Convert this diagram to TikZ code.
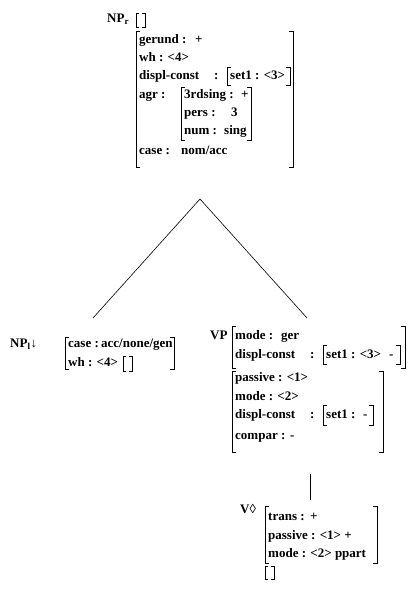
\documentclass[tikz,border=0pt]{standalone}
\usepackage{fontspec}
\setmainfont{Liberation Serif}
\usetikzlibrary{calc}
\begin{document}
\begin{tikzpicture}[x=1pt,y=-1pt,
  txt/.style={anchor=west, inner sep=0pt, text height=8.5pt, text depth=2.5pt, font=\bfseries\fontsize{13}{15}\selectfont},
  brk/.style={line width=0.8pt},
  edge/.style={line width=0.6pt}]
\useasboundingbox (0,0) rectangle (417,589);
\newcommand\avmL[3]{\draw[brk] (#1+4,#2) -- (#1,#2) -- (#1,#3) -- (#1+4,#3);}
\newcommand\avmR[3]{\draw[brk] (#1-4,#2) -- (#1,#2) -- (#1,#3) -- (#1-4,#3);}
\newcommand\emptyavm[3]{\draw[brk] (#1+3,#2) -- (#1,#2) -- (#1,#3) -- (#1+3,#3);
  \draw[brk] (#1+6,#2) -- (#1+9,#2) -- (#1+9,#3) -- (#1+6,#3);}

% ---------- NP_r ----------
\node[txt] (npr) at (107,20) {NP\textsubscript{r}};
\emptyavm{136}{13}{27}
\avmL{136}{31}{167}\avmR{293}{31}{167}
\node[txt] (g1) at (139,40) {gerund :};
\node[txt] (g2) at (195,40) {+};
\node[txt] (wh) at (139,58) {wh : <4>};
\node[txt] (dc1) at (139,76) {displ-const};
\node[txt] (dc2) at (214,76) {:};
\avmL{227}{67}{85}\avmR{290}{67}{85}
\node[txt] (dc3) at (230,76) {set1 : <3>};
\node[txt] (agr) at (139,95) {agr :};
\avmL{181}{87}{140}\avmR{251}{87}{140}
\node[txt] (a1) at (184,95) {3rdsing :};
\node[txt] (a1v) at (241,95) {+};
\node[txt] (a2) at (184,113) {pers :};
\node[txt] (a2v) at (231,113) {3};
\node[txt] (a3) at (184,131) {num :};
\node[txt] (a3v) at (224,131) {sing};
\node[txt] (cs) at (139,151) {case :};
\node[txt] (csv) at (181,151) {nom/acc};

% ---------- connectors ----------
\coordinate (apex) at (200,199);
\coordinate (lend) at (93,318);
\coordinate (rend) at (307,318);
\draw[edge] (lend) -- (apex) -- (rend);

% ---------- NP_l ----------
\node[txt] (npl) at (10,344) {NP\textsubscript{l}↓};
\avmL{65}{337}{369}\avmR{174}{337}{369}
\node[txt] (lcase) at (68,344) {case :};
\node[txt] (lcasev) at (101,344) {acc/none/gen};
\node[txt] (lwh) at (68,363) {wh : <4>};
\draw[brk] ($(lwh.east)+(8,-7)$) -- ++(-3,0) -- ++(0,15) -- ++(3,0);
\draw[brk] ($(lwh.east)+(11,-7)$) -- ++(3,0) -- ++(0,15) -- ++(-3,0);

% ---------- VP ----------
\node[txt] (vp) at (210,336) {VP};
\avmL{232}{326}{368}\avmR{405}{326}{368}
\node[txt] (vm) at (235,336) {mode :};
\node[txt] (vmv) at (281,336) {ger};
\node[txt] (vd) at (235,355) {displ-const};
\node[txt] (vdc) at (310,355) {:};
\avmL{323}{345}{364}\avmR{400}{345}{364}
\node[txt] (vds) at (326,355) {set1 : <3>};
\node[txt] (vdm) at (389,355) {-};

\avmL{232}{371}{452}\avmR{383}{371}{452}
\node[txt] (p1) at (235,378) {passive : <1>};
\node[txt] (p2) at (235,397) {mode : <2>};
\node[txt] (p3) at (235,415) {displ-const};
\node[txt] (p3c) at (310,415) {:};
\avmL{323}{405}{425}\avmR{373}{405}{425}
\node[txt] (p3s) at (326,415) {set1 :};
\node[txt] (p3m) at (363,415) {-};
\node[txt] (p4) at (235,436) {compar :};
\node[txt] (p4m) at (290,436) {-};

% ---------- V ----------
\coordinate (vtop) at (310,474);
\coordinate (vbot) at (310,500);
\draw[edge] (vtop) -- (vbot);
\node[txt] (v) at (240,510) {V◊};
\avmL{265}{506}{563}\avmR{377}{506}{563}
\node[txt] (t1) at (268,517) {trans :};
\node[txt] (t1v) at (310,517) {+};
\node[txt] (t2) at (268,536) {passive : <1> +};
\node[txt] (t3) at (268,554) {mode : <2> ppart};
\emptyavm{265}{566}{579}
\end{tikzpicture}
\end{document}
